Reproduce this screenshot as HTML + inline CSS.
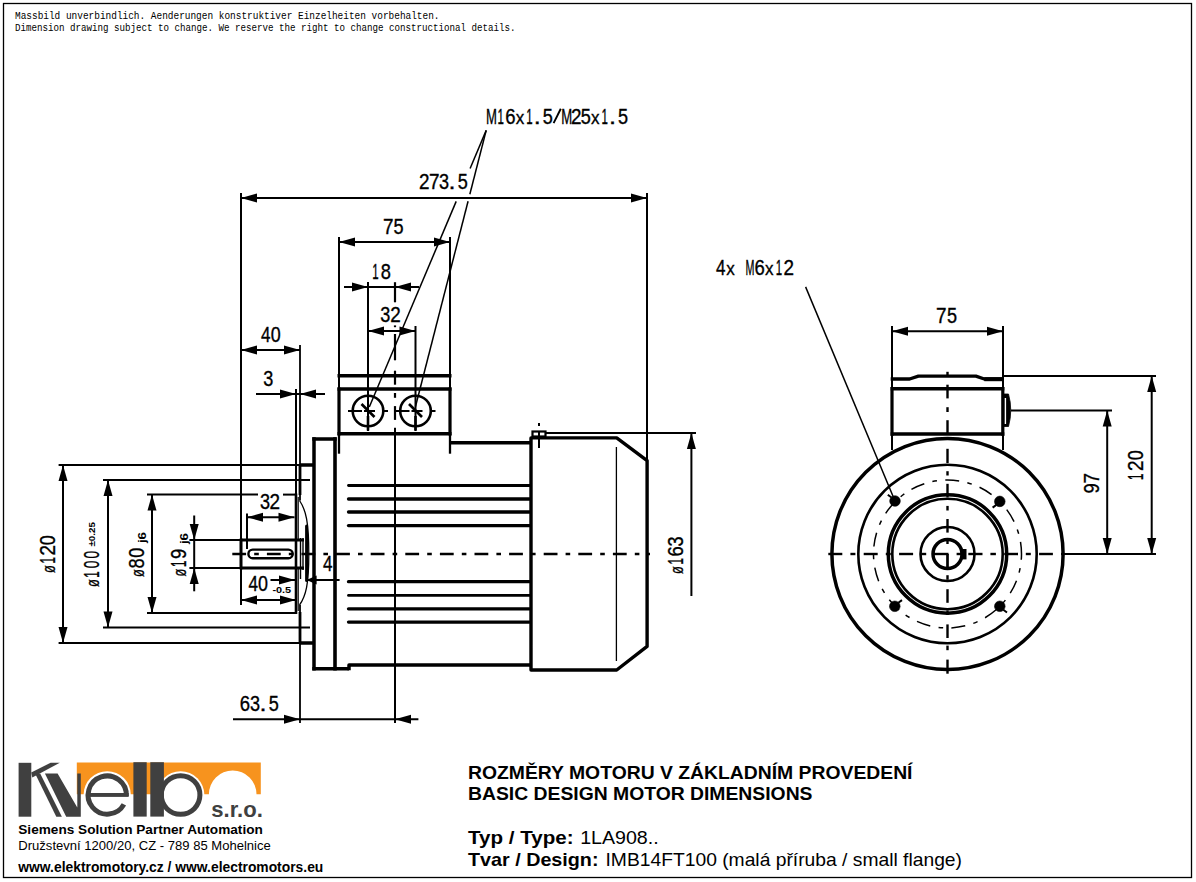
<!DOCTYPE html>
<html><head><meta charset="utf-8"><title>Motor dimensions</title>
<style>
html,body{margin:0;padding:0;background:#fff;}
body{width:1196px;height:882px;overflow:hidden;position:relative;}
svg{position:absolute;left:0;top:0;display:block;font-family:"Liberation Sans",sans-serif;}
</style></head>
<body>
<svg width="1196" height="882" viewBox="0 0 1196 882">
<rect x="0" y="0" width="1196" height="882" fill="#fff"/>
<rect x="3.5" y="3.5" width="1188" height="874" fill="none" stroke="#000" stroke-width="1.3"/>
<g stroke="#000" fill="none" stroke-linecap="butt">
<text x="15" y="18.6" font-size="11.8" textLength="424.5" lengthAdjust="spacingAndGlyphs" font-family="Liberation Mono" fill="#000" stroke="none">Massbild unverbindlich. Aenderungen konstruktiver Einzelheiten vorbehalten.</text>
<text x="15" y="31.4" font-size="11.8" textLength="500.5" lengthAdjust="spacingAndGlyphs" font-family="Liberation Mono" fill="#000" stroke="none">Dimension drawing subject to change. We reserve the right to change constructional details.</text>
<line x1="241" y1="193" x2="241" y2="605" stroke-width="2"/>
<line x1="647" y1="193" x2="647" y2="461" stroke-width="2"/>
<line x1="241" y1="198" x2="647" y2="198" stroke-width="2"/>
<polygon points="241,198 257,193.5 257,202.5" fill="#000" stroke="none"/>
<polygon points="647,198 631,193.5 631,202.5" fill="#000" stroke="none"/>
<g transform="translate(0,189)" font-size="21.4" fill="#000" stroke="#000" stroke-width="0.35"><text transform="translate(424.26,0) scale(0.883,1.000)" x="0" y="0" text-anchor="middle">2</text><text transform="translate(434.13,0) scale(0.883,1.000)" x="0" y="0" text-anchor="middle">7</text><text transform="translate(444,0) scale(0.846,1.000)" x="0" y="0" text-anchor="middle">3</text><text transform="translate(451.92,0) scale(1.181,1.000)" x="0" y="0" text-anchor="middle">.</text><text transform="translate(462.76,0) scale(0.846,1.000)" x="0" y="0" text-anchor="middle">5</text></g>
<g transform="translate(0,123.6)" font-size="21.4" fill="#000" stroke="#000" stroke-width="0.35"><text transform="translate(491.45,0) scale(0.614,1.000)" x="0" y="0" text-anchor="middle">M</text><text transform="translate(500.8,0) scale(0.537,1.000)" x="0" y="0" text-anchor="middle">1</text><text transform="translate(510.44,0) scale(0.864,1.000)" x="0" y="0" text-anchor="middle">6</text><text transform="translate(520.05,0) scale(0.798,0.820)" x="0" y="0" text-anchor="middle">x</text><text transform="translate(529.41,0) scale(0.537,1.000)" x="0" y="0" text-anchor="middle">1</text><text transform="translate(537.2,0) scale(1.181,1.000)" x="0" y="0" text-anchor="middle">.</text><text transform="translate(547.72,0) scale(0.846,1.000)" x="0" y="0" text-anchor="middle">5</text><line x1="553.6" y1="-0.5" x2="560.8" y2="-14.8" stroke-width="1.9" fill="none"/><text transform="translate(566.79,0) scale(0.614,1.000)" x="0" y="0" text-anchor="middle">M</text><text transform="translate(576.33,0) scale(0.883,1.000)" x="0" y="0" text-anchor="middle">2</text><text transform="translate(585.86,0) scale(0.846,1.000)" x="0" y="0" text-anchor="middle">5</text><text transform="translate(595.39,0) scale(0.798,0.820)" x="0" y="0" text-anchor="middle">x</text><text transform="translate(604.74,0) scale(0.537,1.000)" x="0" y="0" text-anchor="middle">1</text><text transform="translate(612.54,0) scale(1.181,1.000)" x="0" y="0" text-anchor="middle">.</text><text transform="translate(623.06,0) scale(0.846,1.000)" x="0" y="0" text-anchor="middle">5</text></g>
<line x1="486.2" y1="130.4" x2="470.1" y2="168.5" stroke-width="1.5"/>
<line x1="456.19" y1="201.4" x2="369.3" y2="407" stroke-width="1.5"/>
<line x1="486.2" y1="130.4" x2="469.84" y2="194.3" stroke-width="1.5"/>
<line x1="468.07" y1="201.2" x2="415.5" y2="406.5" stroke-width="1.5"/>
<line x1="339" y1="237" x2="339" y2="389" stroke-width="2"/>
<line x1="450" y1="237" x2="450" y2="389" stroke-width="2"/>
<line x1="339" y1="242" x2="450" y2="242" stroke-width="2"/>
<polygon points="339,242 355,237.5 355,246.5" fill="#000" stroke="none"/>
<polygon points="450,242 434,237.5 434,246.5" fill="#000" stroke="none"/>
<g transform="translate(0,233.9)" font-size="21.4" fill="#000" stroke="#000" stroke-width="0.35"><text transform="translate(388.26,0) scale(0.883,1.000)" x="0" y="0" text-anchor="middle">7</text><text transform="translate(398.66,0) scale(0.846,1.000)" x="0" y="0" text-anchor="middle">5</text></g>
<line x1="368" y1="282" x2="368" y2="431" stroke-width="2"/>
<line x1="344" y1="287" x2="419" y2="287" stroke-width="2"/>
<polygon points="368,287 352,282.5 352,291.5" fill="#000" stroke="none"/>
<polygon points="395,287 411,282.5 411,291.5" fill="#000" stroke="none"/>
<g transform="translate(0,278.8)" font-size="21.4" fill="#000" stroke="#000" stroke-width="0.35"><text transform="translate(375.36,0) scale(0.537,1.000)" x="0" y="0" text-anchor="middle">1</text><text transform="translate(385.81,0) scale(0.855,1.000)" x="0" y="0" text-anchor="middle">8</text></g>
<line x1="415.5" y1="326" x2="415.5" y2="431" stroke-width="2"/>
<line x1="368" y1="331" x2="415.5" y2="331" stroke-width="2"/>
<polygon points="368,331 384,326.5 384,335.5" fill="#000" stroke="none"/>
<polygon points="415.5,331 399.5,326.5 399.5,335.5" fill="#000" stroke="none"/>
<g transform="translate(0,322.4)" font-size="21.4" fill="#000" stroke="#000" stroke-width="0.35"><text transform="translate(385.36,0) scale(0.846,1.000)" x="0" y="0" text-anchor="middle">3</text><text transform="translate(395.56,0) scale(0.883,1.000)" x="0" y="0" text-anchor="middle">2</text></g>
<path d="M337.5,375.8 L451.5,375.8" stroke-width="3.5" fill="none"/>
<path d="M337.5,389 L451.5,389" stroke-width="3.5" fill="none"/>
<path d="M337.5,433.7 L451.5,433.7" stroke-width="3.5" fill="none"/>
<line x1="339" y1="387.5" x2="339" y2="435.4" stroke-width="3.2"/>
<line x1="450" y1="387.5" x2="450" y2="435.4" stroke-width="3.2"/>
<line x1="339" y1="434" x2="339" y2="453.7" stroke-width="2.3"/>
<line x1="450" y1="434" x2="450" y2="453.7" stroke-width="2.3"/>
<circle cx="368" cy="411" r="15.3" stroke-width="2.6" fill="none"/>
<line x1="348" y1="411" x2="362" y2="411" stroke-width="2"/>
<line x1="364" y1="411" x2="375" y2="411" stroke-width="2"/>
<line x1="384" y1="411" x2="388" y2="411" stroke-width="2"/>
<line x1="368" y1="416" x2="368" y2="430.5" stroke-width="2.6"/>
<line x1="361.5" y1="404" x2="374.5" y2="417" stroke-width="2.6"/>
<circle cx="415.5" cy="411" r="15.3" stroke-width="2.6" fill="none"/>
<line x1="395.5" y1="411" x2="409.5" y2="411" stroke-width="2"/>
<line x1="411.5" y1="411" x2="422.5" y2="411" stroke-width="2"/>
<line x1="431.5" y1="411" x2="435.5" y2="411" stroke-width="2"/>
<line x1="415.5" y1="416" x2="415.5" y2="430.5" stroke-width="2.6"/>
<line x1="409" y1="404" x2="422" y2="417" stroke-width="2.6"/>
<line x1="395" y1="282.2" x2="395" y2="302.3" stroke-width="2.2"/>
<line x1="395" y1="325.4" x2="395" y2="327.2" stroke-width="2.2"/>
<line x1="395" y1="334" x2="395" y2="360.3" stroke-width="2.2"/>
<line x1="395" y1="370.7" x2="395" y2="384.7" stroke-width="2.2"/>
<line x1="395" y1="393" x2="395" y2="397.8" stroke-width="2.2"/>
<line x1="395" y1="406.1" x2="395" y2="419.9" stroke-width="2.2"/>
<line x1="395" y1="427.8" x2="395" y2="723" stroke-width="2"/>
<path d="M312.3,438.9 L336.7,438.9 M312.3,668.8 L349,668.8" stroke-width="3.5" fill="none"/>
<line x1="314" y1="437.2" x2="314" y2="670.5" stroke-width="3.5"/>
<line x1="335" y1="437.2" x2="335" y2="670.5" stroke-width="3.6"/>
<path d="M449,442.8 L531,442.8" stroke-width="3.5" fill="none"/>
<path d="M349,670.3 L349,665 L531,665" stroke-width="3.5" fill="none" stroke-linejoin="round"/>
<line x1="348.5" y1="485.5" x2="529.5" y2="485.5" stroke-width="2.8" stroke-linecap="round"/>
<line x1="348.5" y1="499" x2="529.5" y2="499" stroke-width="3.3" stroke-linecap="round"/>
<line x1="348.5" y1="512" x2="529.5" y2="512" stroke-width="3.3" stroke-linecap="round"/>
<line x1="348.5" y1="525.6" x2="529.5" y2="525.6" stroke-width="3.3" stroke-linecap="round"/>
<line x1="348.5" y1="581.7" x2="529.5" y2="581.7" stroke-width="3.3" stroke-linecap="round"/>
<line x1="348.5" y1="595.4" x2="529.5" y2="595.4" stroke-width="2.8" stroke-linecap="round"/>
<line x1="348.5" y1="608.8" x2="529.5" y2="608.8" stroke-width="3.3" stroke-linecap="round"/>
<line x1="348.5" y1="622.1" x2="529.5" y2="622.1" stroke-width="3.3" stroke-linecap="round"/>
<path d="M531,437.9 L616.7,437.9 L647.1,460.6 L647.1,646.4 L616.7,670 L531,670 Z" stroke-width="3.4" fill="none" stroke-linejoin="round"/>
<line x1="616.4" y1="447" x2="616.4" y2="661" stroke-width="1.3"/>
<rect x="532.5" y="431.5" width="13" height="5" fill="none" stroke-width="2.2"/>
<line x1="539" y1="431" x2="539" y2="448" stroke-width="2"/>
<rect x="538" y="423" width="2" height="3" fill="#000" stroke="none"/>
<line x1="546" y1="433" x2="696" y2="433" stroke-width="2"/>
<line x1="691.4" y1="433" x2="691.4" y2="596" stroke-width="2"/>
<polygon points="691.4,433 686.9,449 695.9,449" fill="#000" stroke="none"/>
<g transform="translate(682.8,0) rotate(-90)" font-size="21.4" fill="#000" stroke="#000" stroke-width="0.35"><text transform="translate(-569.96,0) scale(0.601,0.880)" x="0" y="0" text-anchor="middle">ø</text><text transform="translate(-561.29,0) scale(0.537,1.000)" x="0" y="0" text-anchor="middle">1</text><text transform="translate(-551.36,0) scale(0.864,1.000)" x="0" y="0" text-anchor="middle">6</text><text transform="translate(-541.44,0) scale(0.846,1.000)" x="0" y="0" text-anchor="middle">3</text></g>
<line x1="232.3" y1="554" x2="650" y2="554" stroke-width="2.4" stroke-dasharray="13.8 8.1 4.6 8.1" stroke-dashoffset="0"/>
<line x1="241" y1="540" x2="304" y2="540" stroke-width="2.8"/>
<line x1="241" y1="568" x2="304" y2="568" stroke-width="2.8"/>
<line x1="241" y1="538.6" x2="241" y2="569.4" stroke-width="3"/>
<rect x="248.4" y="549.6" width="44.3" height="8.6" rx="4.3" fill="none" stroke-width="2.4"/>
<line x1="296" y1="493.5" x2="296" y2="614" stroke-width="2.6"/>
<line x1="300" y1="345" x2="300" y2="500.5" stroke-width="1.8"/>
<line x1="300" y1="605" x2="300" y2="723" stroke-width="1.8"/>
<line x1="298.2" y1="569" x2="298.2" y2="611" stroke-width="1.2"/>
<line x1="298.2" y1="497" x2="298.2" y2="539" stroke-width="1.2"/>
<line x1="300.5" y1="538" x2="300.5" y2="579" stroke-width="1.4"/>
<line x1="303" y1="538" x2="303" y2="570" stroke-width="1.4"/>
<line x1="300" y1="464" x2="300" y2="495" stroke-width="2.8"/>
<line x1="300" y1="612" x2="300" y2="644" stroke-width="2.8"/>
<line x1="300" y1="465" x2="314" y2="465" stroke-width="3.5"/>
<line x1="300" y1="643" x2="314" y2="643" stroke-width="3.5"/>
<path d="M299.5,500.5 C306,510 308.8,522 308.8,554 C308.8,584 306,596 299.5,605" stroke-width="1.3" fill="none"/>
<line x1="306.6" y1="526" x2="306.6" y2="580.5" stroke-width="3" stroke-linecap="round"/>
<line x1="58.6" y1="465" x2="300" y2="465" stroke-width="2"/>
<line x1="58.6" y1="643" x2="300" y2="643" stroke-width="2"/>
<line x1="103" y1="480" x2="310" y2="480" stroke-width="2"/>
<line x1="103" y1="627.4" x2="310" y2="627.4" stroke-width="2"/>
<line x1="147" y1="494.6" x2="258" y2="494.6" stroke-width="2"/>
<line x1="283" y1="494.6" x2="296" y2="494.6" stroke-width="2"/>
<line x1="147" y1="613" x2="296" y2="613" stroke-width="2"/>
<line x1="189.4" y1="540" x2="241" y2="540" stroke-width="2"/>
<line x1="189.4" y1="568" x2="241" y2="568" stroke-width="2"/>
<line x1="63" y1="465" x2="63" y2="643" stroke-width="2"/>
<polygon points="63,465 58.5,481 67.5,481" fill="#000" stroke="none"/>
<polygon points="63,643 58.5,627 67.5,627" fill="#000" stroke="none"/>
<line x1="108" y1="480" x2="108" y2="627.4" stroke-width="2"/>
<polygon points="108,480 103.5,496 112.5,496" fill="#000" stroke="none"/>
<polygon points="108,627.4 103.5,611.4 112.5,611.4" fill="#000" stroke="none"/>
<line x1="152" y1="494.6" x2="152" y2="613" stroke-width="2"/>
<polygon points="152,494.6 147.5,510.6 156.5,510.6" fill="#000" stroke="none"/>
<polygon points="152,613 147.5,597 156.5,597" fill="#000" stroke="none"/>
<line x1="194.2" y1="515.5" x2="194.2" y2="591.3" stroke-width="2"/>
<polygon points="194.2,540 189.7,524 198.7,524" fill="#000" stroke="none"/>
<polygon points="194.2,568 189.7,584 198.7,584" fill="#000" stroke="none"/>
<g transform="translate(55,0) rotate(-90)" font-size="21.4" fill="#000" stroke="#000" stroke-width="0.35"><text transform="translate(-569.16,0) scale(0.601,0.880)" x="0" y="0" text-anchor="middle">ø</text><text transform="translate(-560.34,0) scale(0.537,1.000)" x="0" y="0" text-anchor="middle">1</text><text transform="translate(-550.14,0) scale(0.883,1.000)" x="0" y="0" text-anchor="middle">2</text><text transform="translate(-540.19,0) scale(0.837,1.000)" x="0" y="0" text-anchor="middle">0</text></g>
<g transform="translate(99.1,0) rotate(-90)" font-size="21.4" fill="#000" stroke="#000" stroke-width="0.35"><text transform="translate(-583.16,0) scale(0.601,0.880)" x="0" y="0" text-anchor="middle">ø</text><text transform="translate(-574.49,0) scale(0.537,1.000)" x="0" y="0" text-anchor="middle">1</text><text transform="translate(-564.52,0) scale(0.643,1.000)" x="0" y="0" text-anchor="middle">0</text><text transform="translate(-554.69,0) scale(0.643,1.000)" x="0" y="0" text-anchor="middle">0</text></g>
<text x="95" y="546.6" font-size="9.5" textLength="24.6" lengthAdjust="spacingAndGlyphs" transform="rotate(-90 95 546.6)" font-weight="bold" fill="#000" stroke="none">±0.25</text>
<g transform="translate(143.7,0) rotate(-90)" font-size="21.4" fill="#000" stroke="#000" stroke-width="0.35"><text transform="translate(-573.06,0) scale(0.601,0.880)" x="0" y="0" text-anchor="middle">ø</text><text transform="translate(-563.52,0) scale(0.855,1.000)" x="0" y="0" text-anchor="middle">8</text><text transform="translate(-552.89,0) scale(0.837,1.000)" x="0" y="0" text-anchor="middle">0</text></g>
<text x="146" y="543.1" font-size="11" textLength="11.1" lengthAdjust="spacingAndGlyphs" transform="rotate(-90 146 543.1)" font-weight="bold" fill="#000" stroke="none">j6</text>
<g transform="translate(185.8,0) rotate(-90)" font-size="21.4" fill="#000" stroke="#000" stroke-width="0.35"><text transform="translate(-572.56,0) scale(0.601,0.880)" x="0" y="0" text-anchor="middle">ø</text><text transform="translate(-563.88,0) scale(0.537,1.000)" x="0" y="0" text-anchor="middle">1</text><text transform="translate(-553.84,0) scale(0.864,1.000)" x="0" y="0" text-anchor="middle">9</text></g>
<text x="188.3" y="544.1" font-size="11" textLength="11.1" lengthAdjust="spacingAndGlyphs" transform="rotate(-90 188.3 544.1)" font-weight="bold" fill="#000" stroke="none">j6</text>
<line x1="241" y1="350" x2="300" y2="350" stroke-width="2"/>
<polygon points="241,350 257,345.5 257,354.5" fill="#000" stroke="none"/>
<polygon points="300,350 284,345.5 284,354.5" fill="#000" stroke="none"/>
<g transform="translate(0,341.8)" font-size="21.4" fill="#000" stroke="#000" stroke-width="0.35"><text transform="translate(265.64,0) scale(0.796,1.000)" x="0" y="0" text-anchor="middle">4</text><text transform="translate(275.61,0) scale(0.837,1.000)" x="0" y="0" text-anchor="middle">0</text></g>
<line x1="296" y1="389" x2="296" y2="494" stroke-width="2"/>
<line x1="256" y1="394" x2="325" y2="394" stroke-width="2"/>
<polygon points="296,394 280,389.5 280,398.5" fill="#000" stroke="none"/>
<polygon points="300,394 316,389.5 316,398.5" fill="#000" stroke="none"/>
<g transform="translate(0,385.8)" font-size="21.4" fill="#000" stroke="#000" stroke-width="0.35"><text transform="translate(268.36,0) scale(0.846,1.000)" x="0" y="0" text-anchor="middle">3</text></g>
<line x1="247" y1="513.4" x2="247" y2="549" stroke-width="2"/>
<line x1="247" y1="517.3" x2="294.5" y2="517.3" stroke-width="2"/>
<polygon points="247,517.3 263,512.8 263,521.8" fill="#000" stroke="none"/>
<polygon points="294.5,517.3 278.5,512.8 278.5,521.8" fill="#000" stroke="none"/>
<g transform="translate(0,508.8)" font-size="21.4" fill="#000" stroke="#000" stroke-width="0.35"><text transform="translate(264.96,0) scale(0.846,1.000)" x="0" y="0" text-anchor="middle">3</text><text transform="translate(274.76,0) scale(0.883,1.000)" x="0" y="0" text-anchor="middle">2</text></g>
<line x1="270.5" y1="580" x2="295" y2="580" stroke-width="2"/>
<polygon points="295,580 279,575.5 279,584.5" fill="#000" stroke="none"/>
<line x1="306.6" y1="580" x2="339.6" y2="580" stroke-width="2"/>
<polygon points="306.6,580 316.6,575.5 316.6,584.5" fill="#000" stroke="none"/>
<g transform="translate(0,570.6)" font-size="21.4" fill="#000" stroke="#000" stroke-width="0.35"><text transform="translate(327.74,0) scale(0.796,1.000)" x="0" y="0" text-anchor="middle">4</text></g>
<line x1="241" y1="600" x2="296" y2="600" stroke-width="2"/>
<polygon points="241,600 257,595.5 257,604.5" fill="#000" stroke="none"/>
<polygon points="296,600 280,595.5 280,604.5" fill="#000" stroke="none"/>
<g transform="translate(0,591.2)" font-size="21.4" fill="#000" stroke="#000" stroke-width="0.35"><text transform="translate(253.24,0) scale(0.796,1.000)" x="0" y="0" text-anchor="middle">4</text><text transform="translate(262.91,0) scale(0.837,1.000)" x="0" y="0" text-anchor="middle">0</text></g>
<text x="272.4" y="592.7" font-size="9.5" textLength="18.8" lengthAdjust="spacingAndGlyphs" font-weight="bold" fill="#000" stroke="none">-0.5</text>
<line x1="233" y1="719.2" x2="418.4" y2="719.2" stroke-width="2"/>
<polygon points="300,719.2 284,714.7 284,723.7" fill="#000" stroke="none"/>
<polygon points="395,719.2 411,714.7 411,723.7" fill="#000" stroke="none"/>
<g transform="translate(0,710.6)" font-size="21.4" fill="#000" stroke="#000" stroke-width="0.35"><text transform="translate(244.96,0) scale(0.864,1.000)" x="0" y="0" text-anchor="middle">6</text><text transform="translate(254.95,0) scale(0.846,1.000)" x="0" y="0" text-anchor="middle">3</text><text transform="translate(262.9,0) scale(1.181,1.000)" x="0" y="0" text-anchor="middle">.</text><text transform="translate(273.76,0) scale(0.846,1.000)" x="0" y="0" text-anchor="middle">5</text></g>
<circle cx="947.5" cy="554" r="115.6" stroke-width="3.5" fill="none"/>
<circle cx="947.5" cy="554" r="89.2" stroke-width="2.6" fill="none"/>
<circle cx="947.5" cy="554" r="74" stroke-width="1.5" fill="none" stroke-dasharray="14 8.4 4.6 8.4" stroke-dashoffset="8.1"/>
<circle cx="947.5" cy="554" r="59.2" stroke-width="3.5" fill="none"/>
<circle cx="947.5" cy="554" r="55.2" stroke-width="2.6" fill="none"/>
<circle cx="947.5" cy="554" r="27" stroke-width="2.6" fill="none"/>
<circle cx="947.5" cy="554" r="14.5" stroke-width="3.5" fill="none"/>
<rect x="961" y="549" width="5.5" height="10.4" fill="#000" stroke="none"/>
<line x1="933" y1="554" x2="947.5" y2="554" stroke-width="2"/>
<line x1="947.5" y1="554" x2="947.5" y2="568" stroke-width="2"/>
<line x1="828.3" y1="554" x2="842.3" y2="554" stroke-width="2.4"/>
<line x1="850.4" y1="554" x2="855.4" y2="554" stroke-width="2.4"/>
<line x1="863.7" y1="554" x2="877.7" y2="554" stroke-width="2.4"/>
<line x1="885.8" y1="554" x2="890.8" y2="554" stroke-width="2.4"/>
<line x1="899.1" y1="554" x2="913.1" y2="554" stroke-width="2.4"/>
<line x1="921.2" y1="554" x2="926.2" y2="554" stroke-width="2.4"/>
<line x1="934.5" y1="554" x2="948.5" y2="554" stroke-width="2.4"/>
<line x1="956.6" y1="554" x2="961.6" y2="554" stroke-width="2.4"/>
<line x1="968.3" y1="554" x2="982.5" y2="554" stroke-width="2.4"/>
<line x1="990.4" y1="554" x2="995.9" y2="554" stroke-width="2.4"/>
<line x1="1004.2" y1="554" x2="1018" y2="554" stroke-width="2.4"/>
<line x1="1025.8" y1="554" x2="1030.8" y2="554" stroke-width="2.4"/>
<line x1="1039.1" y1="554" x2="1052.9" y2="554" stroke-width="2.4"/>
<line x1="1061" y1="554" x2="1063.5" y2="554" stroke-width="2.4"/>
<line x1="947.5" y1="371.8" x2="947.5" y2="375.2" stroke-width="2.4"/>
<line x1="947.5" y1="384.7" x2="947.5" y2="398.4" stroke-width="2.4"/>
<line x1="947.5" y1="407.2" x2="947.5" y2="412" stroke-width="2.4"/>
<line x1="947.5" y1="420.2" x2="947.5" y2="434" stroke-width="2.4"/>
<line x1="947.5" y1="448.8" x2="947.5" y2="463" stroke-width="2.4"/>
<line x1="947.5" y1="471.2" x2="947.5" y2="475.5" stroke-width="2.4"/>
<line x1="947.5" y1="483.8" x2="947.5" y2="497.4" stroke-width="2.4"/>
<line x1="947.5" y1="505.9" x2="947.5" y2="510.5" stroke-width="2.4"/>
<line x1="947.5" y1="519" x2="947.5" y2="532.6" stroke-width="2.4"/>
<line x1="947.5" y1="539.4" x2="947.5" y2="544" stroke-width="2.4"/>
<line x1="947.5" y1="554" x2="947.5" y2="568" stroke-width="2.4"/>
<line x1="947.5" y1="575.2" x2="947.5" y2="579.8" stroke-width="2.4"/>
<line x1="947.5" y1="589.2" x2="947.5" y2="602.8" stroke-width="2.4"/>
<line x1="947.5" y1="610.4" x2="947.5" y2="615" stroke-width="2.4"/>
<line x1="947.5" y1="624.4" x2="947.5" y2="638" stroke-width="2.4"/>
<line x1="947.5" y1="645.6" x2="947.5" y2="650.2" stroke-width="2.4"/>
<line x1="947.5" y1="659.6" x2="947.5" y2="673.7" stroke-width="2.4"/>
<circle cx="895" cy="501" r="5.3" stroke-width="0.6" fill="#000"/>
<line x1="891.5" y1="497.5" x2="887.8" y2="494.8" stroke-width="2"/>
<circle cx="999.8" cy="501.4" r="5.3" stroke-width="0.6" fill="#000"/>
<line x1="996.3" y1="504.9" x2="992.6" y2="507.6" stroke-width="2"/>
<circle cx="894.8" cy="606.3" r="5.3" stroke-width="0.6" fill="#000"/>
<line x1="898.3" y1="602.8" x2="902" y2="600.1" stroke-width="2"/>
<circle cx="999.8" cy="606.3" r="5.3" stroke-width="0.6" fill="#000"/>
<line x1="1003.3" y1="609.8" x2="1007" y2="612.5" stroke-width="2"/>
<g transform="translate(0,274.9)" font-size="21.4" fill="#000" stroke="#000" stroke-width="0.35"><text transform="translate(720.84,0) scale(0.796,1.000)" x="0" y="0" text-anchor="middle">4</text><text transform="translate(730.47,0) scale(0.798,0.820)" x="0" y="0" text-anchor="middle">x</text><text transform="translate(749.93,0) scale(0.502,1.000)" x="0" y="0" text-anchor="middle">M</text><text transform="translate(759.58,0) scale(0.864,1.000)" x="0" y="0" text-anchor="middle">6</text><text transform="translate(769.39,0) scale(0.798,0.820)" x="0" y="0" text-anchor="middle">x</text><text transform="translate(778.93,0) scale(0.537,1.000)" x="0" y="0" text-anchor="middle">1</text><text transform="translate(788.86,0) scale(0.883,1.000)" x="0" y="0" text-anchor="middle">2</text></g>
<line x1="805.6" y1="286.9" x2="895" y2="501" stroke-width="1.5"/>
<line x1="892" y1="326" x2="892" y2="450" stroke-width="2"/>
<line x1="1003" y1="326" x2="1003" y2="450" stroke-width="2"/>
<line x1="892" y1="331.2" x2="1003" y2="331.2" stroke-width="2"/>
<polygon points="892,331.2 908,326.7 908,335.7" fill="#000" stroke="none"/>
<polygon points="1003,331.2 987,326.7 987,335.7" fill="#000" stroke="none"/>
<g transform="translate(0,322.7)" font-size="21.4" fill="#000" stroke="#000" stroke-width="0.35"><text transform="translate(941.16,0) scale(0.883,1.000)" x="0" y="0" text-anchor="middle">7</text><text transform="translate(951.96,0) scale(0.846,1.000)" x="0" y="0" text-anchor="middle">5</text></g>
<path d="M890.7,379 L909.6,379 L918.4,376.1 L975.9,376.1 L984.3,379 L1003.5,379" stroke-width="3.3" fill="none" stroke-linejoin="round"/>
<line x1="984.3" y1="379.2" x2="1003.5" y2="379.2" stroke-width="4"/>
<line x1="890.7" y1="388.7" x2="1004.3" y2="388.7" stroke-width="3.5"/>
<line x1="890.7" y1="434.1" x2="1004.3" y2="434.1" stroke-width="3.5"/>
<line x1="892" y1="387" x2="892" y2="435.8" stroke-width="3.2"/>
<line x1="1002.8" y1="387" x2="1002.8" y2="435.8" stroke-width="3.2"/>
<path d="M1003,394 L1008.5,394 Q1013,410.3 1008.5,426.5 L1003,426.5 Z" stroke-width="0.8" fill="#000"/>
<rect x="1004.7" y="398" width="1.4" height="26" fill="#fff" stroke="none"/>
<line x1="1003" y1="376" x2="1156" y2="376" stroke-width="2"/>
<line x1="1064" y1="554" x2="1156" y2="554" stroke-width="2"/>
<line x1="1011" y1="410.6" x2="1112" y2="410.6" stroke-width="2"/>
<line x1="1151.7" y1="376" x2="1151.7" y2="554" stroke-width="2"/>
<polygon points="1151.7,376 1147.2,392 1156.2,392" fill="#000" stroke="none"/>
<polygon points="1151.7,554 1147.2,538 1156.2,538" fill="#000" stroke="none"/>
<line x1="1107.2" y1="410.6" x2="1107.2" y2="554" stroke-width="2"/>
<polygon points="1107.2,410.6 1102.7,426.6 1111.7,426.6" fill="#000" stroke="none"/>
<polygon points="1107.2,554 1102.7,538 1111.7,538" fill="#000" stroke="none"/>
<g transform="translate(1098.8,0) rotate(-90)" font-size="21.4" fill="#000" stroke="#000" stroke-width="0.35"><text transform="translate(-488.44,0) scale(0.864,1.000)" x="0" y="0" text-anchor="middle">9</text><text transform="translate(-478.24,0) scale(0.883,1.000)" x="0" y="0" text-anchor="middle">7</text></g>
<g transform="translate(1143.1,0) rotate(-90)" font-size="21.4" fill="#000" stroke="#000" stroke-width="0.35"><text transform="translate(-476.74,0) scale(0.537,1.000)" x="0" y="0" text-anchor="middle">1</text><text transform="translate(-465.84,0) scale(0.883,1.000)" x="0" y="0" text-anchor="middle">2</text><text transform="translate(-455.19,0) scale(0.837,1.000)" x="0" y="0" text-anchor="middle">0</text></g>
<text x="468" y="778.5" font-size="18.4" textLength="444.5" lengthAdjust="spacingAndGlyphs" font-weight="bold" fill="#000" stroke="none">ROZMĚRY MOTORU V ZÁKLADNÍM PROVEDENÍ</text>
<text x="468" y="800.2" font-size="18.4" textLength="344.5" lengthAdjust="spacingAndGlyphs" font-weight="bold" fill="#000" stroke="none">BASIC DESIGN MOTOR DIMENSIONS</text>
<text x="468" y="843.9" font-size="18.4" textLength="105.5" lengthAdjust="spacingAndGlyphs" font-weight="bold" fill="#000" stroke="none">Typ / Type:</text>
<text x="580.2" y="843.9" font-size="18.4" textLength="78.5" lengthAdjust="spacingAndGlyphs" fill="#000" stroke="none">1LA908..</text>
<text x="468" y="866.3" font-size="18.4" textLength="130.5" lengthAdjust="spacingAndGlyphs" font-weight="bold" fill="#000" stroke="none">Tvar / Design:</text>
<text x="605.5" y="866.3" font-size="18.4" textLength="356.5" lengthAdjust="spacingAndGlyphs" fill="#000" stroke="none">IMB14FT100 (malá příruba / small flange)</text>
<text x="18.3" y="833.7" font-size="13.3" textLength="244.5" lengthAdjust="spacingAndGlyphs" font-weight="bold" fill="#000" stroke="none">Siemens Solution Partner Automation</text>
<text x="18.3" y="850" font-size="13.6" textLength="252.5" lengthAdjust="spacingAndGlyphs" fill="#000" stroke="none">Družstevní 1200/20, CZ - 789 85 Mohelnice</text>
<text x="18.3" y="871.9" font-size="14.4" textLength="305" lengthAdjust="spacingAndGlyphs" font-weight="bold" fill="#000" stroke="none">www.elektromotory.cz / www.electromotors.eu</text>
<g stroke="none"><path d="M76.8,762.6 H260.8 V794.3 H256.5 A23.8,23.8 0 0 0 208.9,794.3 H76.8 Z" fill="#f7931e"/><rect x="18.6" y="762.8" width="12.7" height="53.9" fill="#404040"/><polygon points="31.2,772.4 50.6,762.8 59.8,762.8 32.3,777.4" fill="#404040"/><polygon points="35.1,773.6 40.2,773.6 61.9,816.7 56.3,816.7" fill="#404040"/><polygon points="44.9,773.6 57.6,773.6 77.3,807.5 77.3,773.6 80.8,773.6 80.8,816.7 66.2,816.7" fill="#404040"/><circle cx="107.2" cy="794.8" r="23.6" fill="#fff"/><path d="M126.3,796 A19.1,19.1 0 1 0 123.9,804.4" fill="none" stroke="#404040" stroke-width="5"/><rect x="89.5" y="793" width="39.2" height="3.9" fill="#404040"/><rect x="133.4" y="762.2" width="13.3" height="54.4" fill="#404040"/><circle cx="180.6" cy="795" r="23.8" fill="#fff"/><circle cx="180.6" cy="795" r="19.3" fill="none" stroke="#404040" stroke-width="5"/><rect x="150.3" y="762.2" width="13.6" height="54.4" fill="#404040"/></g>
<text x="211.3" y="816.9" font-size="21.5" textLength="51.5" lengthAdjust="spacingAndGlyphs" font-weight="bold" fill="#404040" stroke="none">s.r.o.</text>
</g>
</svg>
</body></html>
